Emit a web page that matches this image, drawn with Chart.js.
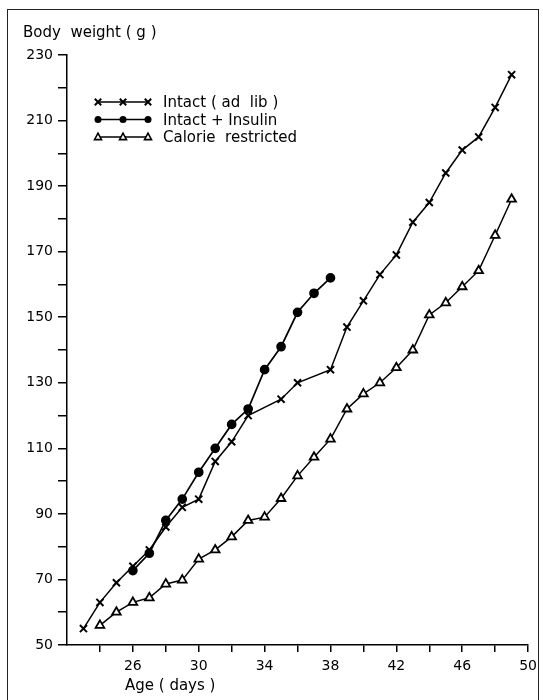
<!DOCTYPE html>
<html>
<head>
<meta charset="utf-8">
<script src="https://cdn.jsdelivr.net/npm/chart.js@4.4.1/dist/chart.umd.min.js"></script>
<style>
  body { margin: 0; background: #fff; }
  #wrap { position: relative; width: 543px; height: 700px; overflow: hidden; }
  #frame { position: absolute; left: 7px; top: 9px; width: 530px; height: 700px;
           border: 1px solid #222; border-bottom: none; pointer-events: none; }
</style>
</head>
<body>
<div id="wrap">
  <canvas id="chart" width="543" height="700"></canvas>
  <div id="frame"></div>
</div>
<script>
// Age (days) and body weight (g)
const adLibDays = [23, 24, 25, 26, 27, 28, 29, 30, 31, 32, 33, 35, 36, 38, 39, 40, 41, 42, 43, 44, 45, 46, 47, 48, 49];
const adLibWeight = [55, 63, 69, 74, 79, 86, 92, 94.5, 106, 112, 120, 125, 130, 134, 147, 155, 163, 169, 179, 185, 194, 201, 205, 214, 224];

const insulinDays = [26, 27, 28, 29, 30, 31, 32, 33, 34, 35, 36, 37, 38];
const insulinWeight = [72.7, 78, 88, 94.5, 102.7, 110, 117.3, 122, 134, 141, 151.5, 157.3, 162];

const restrictedDays = [24, 25, 26, 27, 28, 29, 30, 31, 32, 33, 34, 35, 36, 37, 38, 39, 40, 41, 42, 43, 44, 45, 46, 47, 48, 49];
const restrictedWeight = [56, 60, 63, 64.4, 68.6, 69.8, 76.2, 79, 83, 88, 89, 94.7, 101.6, 107.3, 112.8, 122, 126.6, 130, 134.6, 140, 150.7, 154.4, 159.3, 164.2, 175, 186];

const legendLabels = ['Intact ( ad  lib )', 'Intact + Insulin', 'Calorie  restricted'];
const legendStyles = ['crossRot', 'circle', 'triangle'];

const FONT = '"DejaVu Sans", "Liberation Sans", sans-serif';

function toPoints(days, weights) {
    return days.map((d, i) => ({ x: d, y: weights[i] }));
}

function drawMarker(ctx, style, x, y, r) {
    ctx.beginPath();
    if (style === 'crossRot') {
        ctx.lineWidth = 2;
        ctx.moveTo(x - r, y - r); ctx.lineTo(x + r, y + r);
        ctx.moveTo(x + r, y - r); ctx.lineTo(x - r, y + r);
        ctx.stroke();
    } else if (style === 'circle') {
        ctx.arc(x, y, r, 0, Math.PI * 2);
        ctx.fill();
    } else {
        ctx.lineWidth = 1.6;
        ctx.moveTo(x, y - r * 1.1);
        ctx.lineTo(x + r, y + r * 0.75);
        ctx.lineTo(x - r, y + r * 0.75);
        ctx.closePath();
        ctx.fillStyle = '#fff';
        ctx.fill();
        ctx.stroke();
    }
}

// Axis titles and the in-plot key
const annotations = {
    id: 'annotations',
    afterDraw(chart) {
        const ctx = chart.ctx;
        ctx.save();
        ctx.fillStyle = '#000';
        ctx.strokeStyle = '#000';
        ctx.font = '15px ' + FONT;
        ctx.textBaseline = 'alphabetic';
        ctx.textAlign = 'left';
        ctx.fillText('Body  weight ( g )', 23, 37);
        ctx.fillText('Age ( days )', 125, 690);

        const rows = [102, 119.5, 137];
        rows.forEach((ry, i) => {
            ctx.lineWidth = 1.5;
            ctx.beginPath();
            ctx.moveTo(98, ry); ctx.lineTo(148, ry);
            ctx.stroke();
            [98, 123, 148].forEach(mx => {
                ctx.fillStyle = '#000';
                drawMarker(ctx, legendStyles[i], mx, ry, legendStyles[i] === 'crossRot' ? 3.2 : 3.5);
            });
            ctx.fillStyle = '#000';
            ctx.fillText(legendLabels[i], 163, ry + 5);
        });
        ctx.restore();
    }
};

const ctx = document.getElementById('chart').getContext('2d');
new Chart(ctx, {
    type: 'line',
    data: {
        datasets: [
            {
                label: 'Intact (ad lib)',
                data: toPoints(adLibDays, adLibWeight),
                borderColor: '#000',
                borderWidth: 1.5,
                pointStyle: 'crossRot',
                pointRadius: 5,
                pointBorderWidth: 2,
                pointBorderColor: '#000',
                tension: 0
            },
            {
                label: 'Intact + Insulin',
                data: toPoints(insulinDays, insulinWeight),
                borderColor: '#000',
                borderWidth: 1.7,
                pointStyle: 'circle',
                pointRadius: 4,
                pointBackgroundColor: '#000',
                pointBorderColor: '#000',
                tension: 0
            },
            {
                label: 'Calorie restricted',
                data: toPoints(restrictedDays, restrictedWeight),
                borderColor: '#000',
                borderWidth: 1.5,
                pointStyle: 'triangle',
                pointRadius: 5,
                pointBorderWidth: 1.8,
                pointBackgroundColor: '#fff',
                pointBorderColor: '#000',
                tension: 0
            }
        ]
    },
    options: {
        responsive: false,
        animation: false,
        layout: { padding: { top: 55, right: 12, left: 0, bottom: 0 } },
        plugins: {
            legend: { display: false },
            tooltip: { enabled: false }
        },
        scales: {
            x: {
                type: 'linear',
                min: 22,
                max: 50,
                afterFit: s => { s.height = 55; },
                ticks: {
                    stepSize: 2,
                    autoSkip: false,
                    maxRotation: 0,
                    padding: 6,
                    color: '#000',
                    font: { family: FONT, size: 14 },
                    callback: v => v === 22 ? null : ((v - 26) % 4 === 0 ? String(v) : '')
                },
                grid: { drawOnChartArea: false, drawTicks: true, tickLength: 7, tickColor: '#000', lineWidth: 1.5 },
                border: { display: true, color: '#000', width: 1.5 }
            },
            y: {
                min: 50,
                max: 230,
                afterFit: s => { s.width = 67; },
                ticks: {
                    stepSize: 10,
                    padding: 5,
                    color: '#000',
                    font: { family: FONT, size: 14 },
                    callback: v => (v - 50) % 20 === 0 ? String(v) : ''
                },
                grid: { drawOnChartArea: false, drawTicks: true, tickLength: 9, tickColor: '#000', lineWidth: 1.5 },
                border: { display: true, color: '#000', width: 1.5 }
            }
        }
    },
    plugins: [annotations]
});
</script>
</body>
</html>
